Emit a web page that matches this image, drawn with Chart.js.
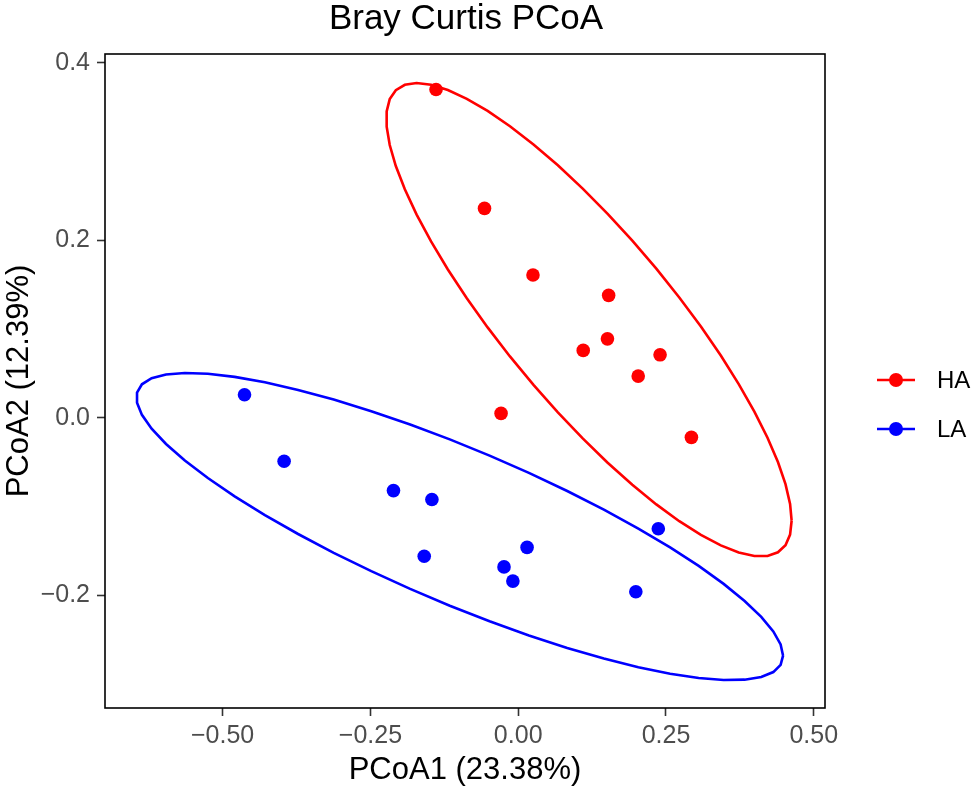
<!DOCTYPE html>
<html>
<head>
<meta charset="utf-8">
<title>Bray Curtis PCoA</title>
<script src="https://cdn.jsdelivr.net/npm/chart.js@4.4.1/dist/chart.umd.min.js"></script>
<style>
  html, body { margin: 0; padding: 0; background: #fff; }
  #wrap { width: 975px; height: 789px; }
</style>
</head>
<body>
<div id="wrap"><canvas id="pcoa" width="975" height="789"></canvas></div>
<script>
// ---- data ----
const groups = ["HA", "LA"];
const groupColors = ["#FF0000", "#0000FF"];

const haX = [-0.139, -0.057, 0.025, 0.153, 0.151, 0.110, 0.240, 0.203, -0.029, 0.293];
const haY = [0.370, 0.236, 0.161, 0.138, 0.089, 0.076, 0.071, 0.047, 0.005, -0.022];

const laX = [-0.463, -0.396, -0.211, -0.146, -0.159, 0.015, -0.024, -0.009, 0.237, 0.199];
const laY = [0.026, -0.049, -0.082, -0.092, -0.156, -0.146, -0.168, -0.184, -0.125, -0.196];

const xTicks = [-0.5, -0.25, 0, 0.25, 0.5];
const yTicks = [-0.2, 0, 0.2, 0.4];

const chartTitle = "Bray Curtis PCoA";
const FONT = "'Liberation Sans', Arial, Helvetica, sans-serif";

// robust t covariance, same idea as MASS::cov.trob (nu = 5)
function covTrob(xs, ys) {
  const n = xs.length, nu = 5, p = 2;
  let w = xs.map(() => 1);
  let lx = xs.reduce((a, b) => a + b, 0) / n;
  let ly = ys.reduce((a, b) => a + b, 0) / n;
  let dx = [], dy = [];
  for (let iter = 0; iter < 25; iter++) {
    const w0 = w.slice();
    dx = xs.map(v => v - lx);
    dy = ys.map(v => v - ly);
    const sw = w.reduce((a, b) => a + b, 0);
    let a = 0, b = 0, c = 0;
    for (let i = 0; i < n; i++) {
      a += w[i] * dx[i] * dx[i] / sw;
      b += w[i] * dx[i] * dy[i] / sw;
      c += w[i] * dy[i] * dy[i] / sw;
    }
    const det = a * c - b * b;
    const q = dx.map((u, i) => (c * u * u - 2 * b * u * dy[i] + a * dy[i] * dy[i]) / det);
    w = q.map(v => (nu + p) / (nu + v));
    const sw2 = w.reduce((s, v) => s + v, 0);
    lx = xs.reduce((s, v, i) => s + w[i] * v, 0) / sw2;
    ly = ys.reduce((s, v, i) => s + w[i] * v, 0) / sw2;
    if (w.every((v, i) => Math.abs(v - w0[i]) < 0.01)) break;
  }
  let a = 0, b = 0, c = 0;
  for (let i = 0; i < n; i++) {
    a += w[i] * dx[i] * dx[i] / n;
    b += w[i] * dx[i] * dy[i] / n;
    c += w[i] * dy[i] * dy[i] / n;
  }
  return { cx: lx, cy: ly, a, b, c };
}

// 95% t ellipse like ggplot2::stat_ellipse
function ellipsePoints(xs, ys) {
  const v = covTrob(xs, ys);
  const dfd = xs.length - 1;
  const fq = dfd / 2 * (Math.pow(0.05, -2 / dfd) - 1); // qf(0.95, 2, dfd)
  const radius = Math.sqrt(2 * fq);
  const r11 = Math.sqrt(v.a), r12 = v.b / r11, r22 = Math.sqrt(v.c - r12 * r12);
  const out = [];
  for (let k = 0; k <= 51; k++) {
    const t = k * 2 * Math.PI / 51;
    const co = Math.cos(t), si = Math.sin(t);
    out.push({ x: v.cx + radius * co * r11, y: v.cy + radius * (co * r12 + si * r22) });
  }
  return out;
}

const toPts = (xs, ys) => xs.map((x, i) => ({ x, y: ys[i] }));
const minusFmt = s => s.replace("-", "\u2212");

const datasets = [];
[[haX, haY], [laX, laY]].forEach(([xs, ys], g) => {
  datasets.push({
    label: groups[g] + " ellipse",
    type: "line",
    data: ellipsePoints(xs, ys),
    borderColor: groupColors[g],
    borderWidth: 2.6,
    pointRadius: 0,
    tension: 0,
    fill: false
  });
  datasets.push({
    label: groups[g],
    type: "scatter",
    data: toPts(xs, ys),
    backgroundColor: groupColors[g],
    borderColor: groupColors[g],
    pointRadius: 6.8,
    pointBorderWidth: 0
  });
});

// panel frame, title centred on the panel, and the line+dot legend
const frameAndLegend = {
  id: "frameAndLegend",
  afterDraw(chart) {
    const { ctx, chartArea: ca } = chart;
    ctx.save();
    ctx.strokeStyle = "#000";
    ctx.lineWidth = 1.6;
    ctx.strokeRect(ca.left, ca.top, ca.right - ca.left, ca.bottom - ca.top);

    ctx.fillStyle = "#000";
    ctx.font = "35px " + FONT;
    ctx.textAlign = "center";
    ctx.textBaseline = "alphabetic";
    ctx.fillText(chartTitle, (ca.left + ca.right) / 2 + 1, 29);

    const ys = [380, 429];
    groups.forEach((g, i) => {
      const y = ys[i];
      ctx.strokeStyle = groupColors[i];
      ctx.lineWidth = 2.6;
      ctx.beginPath();
      ctx.moveTo(877, y);
      ctx.lineTo(915, y);
      ctx.stroke();
      ctx.fillStyle = groupColors[i];
      ctx.beginPath();
      ctx.arc(896, y, 7, 0, Math.PI * 2);
      ctx.fill();
      ctx.fillStyle = "#000";
      ctx.font = "24px " + FONT;
      ctx.textBaseline = "middle";
      ctx.textAlign = "left";
      ctx.fillText(g, 937, y + 1);
    });
    ctx.restore();
  }
};

new Chart(document.getElementById("pcoa"), {
  type: "scatter",
  data: { datasets },
  options: {
    responsive: false,
    animation: false,
    devicePixelRatio: 1,
    layout: { padding: { left: 0, right: 150, top: 54, bottom: 0 } },
    plugins: {
      legend: { display: false },
      tooltip: { enabled: false },
      title: { display: false }
    },
    scales: {
      x: {
        type: "linear",
        min: -0.699,
        max: 0.519,
        afterBuildTicks: s => { s.ticks = xTicks.map(v => ({ value: v })); },
        afterFit: s => { s.height = 81; },
        grid: { drawOnChartArea: false, drawTicks: true, tickLength: 8, tickColor: "#333", tickWidth: 1.6 },
        border: { display: false },
        ticks: {
          color: "#4d4d4d",
          padding: 5,
          font: { family: FONT, size: 25 },
          callback: v => minusFmt(Number(v).toFixed(2))
        },
        title: {
          display: true,
          text: "PCoA1 (23.38%)",
          color: "#000",
          font: { family: FONT, size: 31 },
          padding: { top: 0, bottom: 0 }
        }
      },
      y: {
        type: "linear",
        min: -0.327,
        max: 0.410,
        afterBuildTicks: s => { s.ticks = yTicks.map(v => ({ value: v })); },
        afterFit: s => { s.width = 105; },
        grid: { drawOnChartArea: false, drawTicks: true, tickLength: 8, tickColor: "#333", tickWidth: 1.6 },
        border: { display: false },
        ticks: {
          color: "#4d4d4d",
          padding: 7,
          font: { family: FONT, size: 25 },
          callback: v => minusFmt(Number(v).toFixed(1))
        },
        title: {
          display: true,
          text: "PCoA2 (12.39%)",
          color: "#000",
          font: { family: FONT, size: 31 },
          padding: { top: 1, bottom: 0 }
        }
      }
    }
  },
  plugins: [frameAndLegend]
});
</script>
</body>
</html>
